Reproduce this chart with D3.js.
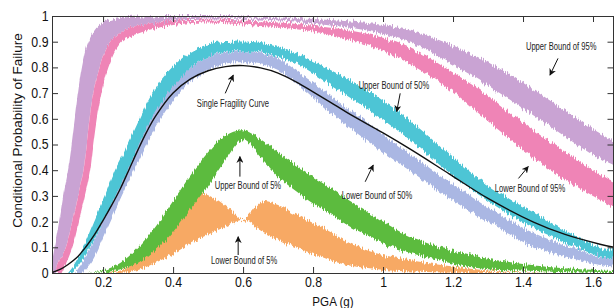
<!DOCTYPE html>
<html>
<head>
<meta charset="utf-8">
<script src="https://cdn.jsdelivr.net/npm/d3@7"></script>
<style>
  html, body { margin: 0; padding: 0; background: #fff; }
  #chart { width: 614px; height: 308px; }
</style>
</head>
<body>
<div id="chart"></div>
<script>
// ejes
const pgaTicks = [0.2, 0.4, 0.6, 0.8, 1, 1.2, 1.4, 1.6];
const probTicks = [0, 0.1, 0.2, 0.3, 0.4, 0.5, 0.6, 0.7, 0.8, 0.9, 1];

// curva única [PGA, prob]
const singleCurve = [[0.054,0],[0.06,0.005],[0.08,0.016],[0.1,0.033],[0.125,0.06],[0.15,0.1],[0.175,0.148],[0.2,0.205],[0.225,0.265],[0.25,0.33],[0.275,0.405],[0.3,0.48],[0.325,0.55],[0.35,0.61],[0.4,0.7],[0.45,0.755],[0.5,0.787],[0.55,0.803],[0.6,0.807],[0.65,0.798],[0.7,0.778],[0.75,0.745],[0.8,0.705],[0.85,0.664],[0.9,0.622],[1.0,0.545],[1.08,0.48],[1.19,0.385],[1.3,0.29],[1.43,0.198],[1.52,0.15],[1.62,0.112],[1.66,0.1]];

// bandas: borde superior / borde inferior
const upper95Top = [[0.054,0.04],[0.06,0.09],[0.077,0.22],[0.09,0.33],[0.101,0.41],[0.11,0.5],[0.12,0.61],[0.139,0.8],[0.158,0.9],[0.19,0.965],[0.24,0.99],[0.3,0.998],[0.5,1.0],[0.7,0.995],[0.8,0.988],[0.9,0.98],[1.0,0.965],[1.1,0.935],[1.2,0.885],[1.3,0.82],[1.4,0.74],[1.5,0.65],[1.6,0.56],[1.66,0.51]];
const upper95Bottom = [[0.054,0],[0.066,0],[0.068,0.03],[0.091,0.09],[0.115,0.22],[0.144,0.4],[0.153,0.5],[0.168,0.67],[0.19,0.8],[0.22,0.9],[0.27,0.95],[0.35,0.975],[0.5,0.99],[0.7,0.983],[0.8,0.97],[0.9,0.955],[1.0,0.93],[1.1,0.885],[1.2,0.81],[1.3,0.73],[1.4,0.64],[1.5,0.55],[1.6,0.46],[1.66,0.42]];
const lower95Top = [[0.066,0],[0.068,0.03],[0.091,0.09],[0.115,0.22],[0.144,0.4],[0.153,0.5],[0.168,0.67],[0.19,0.8],[0.22,0.9],[0.27,0.95],[0.35,0.975],[0.5,0.985],[0.7,0.975],[0.8,0.962],[0.9,0.945],[1.0,0.915],[1.1,0.86],[1.2,0.78],[1.3,0.69],[1.4,0.585],[1.5,0.49],[1.6,0.4],[1.66,0.355]];
const lower95Bottom = [[0.082,0],[0.11,0.09],[0.134,0.22],[0.163,0.4],[0.172,0.5],[0.191,0.67],[0.215,0.8],[0.253,0.9],[0.306,0.935],[0.4,0.965],[0.5,0.975],[0.7,0.955],[0.8,0.94],[0.9,0.91],[1.0,0.865],[1.1,0.795],[1.2,0.705],[1.3,0.59],[1.4,0.48],[1.5,0.38],[1.6,0.3],[1.66,0.255]];

const upper50Top = [[0.1,0],[0.12,0.035],[0.14,0.09],[0.16,0.155],[0.18,0.22],[0.205,0.3],[0.234,0.4],[0.26,0.47],[0.28,0.53],[0.3,0.59],[0.325,0.66],[0.36,0.74],[0.39,0.79],[0.43,0.84],[0.47,0.875],[0.52,0.895],[0.57,0.9],[0.62,0.9],[0.67,0.89],[0.72,0.87],[0.76,0.85],[0.85,0.79],[0.92,0.74],[0.99,0.68],[1.08,0.59],[1.19,0.46],[1.3,0.34],[1.43,0.235],[1.52,0.165],[1.62,0.1],[1.66,0.09]];
const upper50Bottom = [[0.11,0],[0.13,0.03],[0.16,0.09],[0.2,0.2],[0.235,0.3],[0.27,0.4],[0.3,0.49],[0.33,0.58],[0.37,0.67],[0.41,0.74],[0.45,0.8],[0.5,0.84],[0.55,0.86],[0.6,0.862],[0.65,0.858],[0.7,0.84],[0.76,0.81],[0.85,0.73],[0.92,0.67],[0.99,0.605],[1.08,0.515],[1.19,0.39],[1.3,0.28],[1.43,0.175],[1.52,0.12],[1.62,0.065],[1.66,0.055]];
const lower50Top = [[0.12,0],[0.15,0.06],[0.2,0.2],[0.25,0.36],[0.3,0.5],[0.35,0.64],[0.4,0.74],[0.45,0.8],[0.5,0.84],[0.55,0.858],[0.6,0.862],[0.65,0.855],[0.7,0.835],[0.76,0.78],[0.85,0.69],[0.92,0.62],[0.99,0.55],[1.08,0.46],[1.19,0.355],[1.3,0.255],[1.43,0.156],[1.52,0.11],[1.62,0.063],[1.66,0.055]];
const lower50Bottom = [[0.14,0],[0.17,0.05],[0.21,0.17],[0.26,0.32],[0.31,0.46],[0.36,0.59],[0.4,0.67],[0.45,0.745],[0.5,0.79],[0.55,0.815],[0.6,0.82],[0.65,0.812],[0.7,0.79],[0.76,0.73],[0.85,0.625],[0.92,0.55],[0.99,0.48],[1.08,0.395],[1.19,0.29],[1.3,0.2],[1.43,0.102],[1.52,0.065],[1.62,0.031],[1.66,0.025]];

const upper5Top = [[0.15,0],[0.2,0.01],[0.25,0.04],[0.3,0.1],[0.35,0.18],[0.4,0.28],[0.45,0.38],[0.5,0.47],[0.55,0.535],[0.6,0.555],[0.65,0.52],[0.7,0.47],[0.75,0.42],[0.8,0.375],[0.85,0.33],[0.9,0.285],[0.95,0.245],[1.0,0.2],[1.05,0.16],[1.1,0.13],[1.16,0.1],[1.24,0.075],[1.3,0.055],[1.43,0.03],[1.5,0.02],[1.62,0.01],[1.66,0.008]];
const upper5Bottom = [[0.13,0],[0.2,0.003],[0.25,0.015],[0.3,0.04],[0.35,0.09],[0.4,0.16],[0.45,0.25],[0.5,0.34],[0.55,0.44],[0.6,0.52],[0.65,0.45],[0.7,0.375],[0.75,0.32],[0.8,0.27],[0.85,0.23],[0.9,0.185],[0.95,0.15],[1.0,0.115],[1.05,0.09],[1.1,0.07],[1.16,0.05],[1.24,0.025],[1.3,0.015],[1.43,0.008],[1.5,0.004],[1.62,0],[1.66,0]];
const lower5Top = [[0.2,0],[0.25,0.01],[0.28,0.03],[0.32,0.08],[0.37,0.2],[0.42,0.26],[0.47,0.31],[0.52,0.29],[0.56,0.25],[0.6,0.21],[0.64,0.26],[0.66,0.28],[0.7,0.265],[0.75,0.23],[0.8,0.195],[0.85,0.16],[0.9,0.12],[0.95,0.09],[1.0,0.07],[1.1,0.045],[1.2,0.025],[1.3,0.01],[1.4,0.003],[1.5,0]];
const lower5Bottom = [[0.25,0],[0.3,0.012],[0.35,0.04],[0.4,0.075],[0.45,0.115],[0.5,0.15],[0.55,0.18],[0.6,0.206],[0.65,0.165],[0.7,0.13],[0.75,0.1],[0.8,0.075],[0.85,0.05],[0.9,0.03],[0.95,0.02],[1.0,0.012],[1.1,0.005],[1.2,0.001],[1.3,0],[1.5,0]];

// orden de dibujo: primero las de atrás
const bands = [
  { name: "upper95", top: upper95Top, bottom: upper95Bottom, color: "#c9a3d3" },
  { name: "lower95", top: lower95Top, bottom: lower95Bottom, color: "#ef84b6" },
  { name: "lower50", top: lower50Top, bottom: lower50Bottom, color: "#aab7e3" },
  { name: "upper50", top: upper50Top, bottom: upper50Bottom, color: "#4dc5d5" },
  { name: "lower5", top: lower5Top, bottom: lower5Bottom, color: "#f7a964" },
  { name: "upper5", top: upper5Top, bottom: upper5Bottom, color: "#5cbb3e" }
];

// anotaciones en unidades de datos
const notes = [
  { text: "Single Fragility Curve", at: [0.571, 0.646], from: [0.549, 0.699], to: [0.572, 0.77] },
  { text: "Upper Bound of 50%", at: [1.031, 0.716], from: [1.049, 0.699], to: [1.039, 0.628] },
  { text: "Lower Bound of 50%", at: [0.983, 0.288], from: [0.949, 0.355], to: [0.972, 0.42] },
  { text: "Upper Bound of 5%", at: [0.614, 0.327], from: [0.591, 0.375], to: [0.591, 0.453] },
  { text: "Lower Bound of 5%", at: [0.603, 0.035], from: [0.586, 0.07], to: [0.586, 0.141] },
  { text: "Upper Bound of 95%", at: [1.509, 0.868], from: [1.5, 0.835], to: [1.477, 0.77] },
  { text: "Lower Bound of 95%", at: [1.42, 0.315], from: [1.387, 0.368], to: [1.415, 0.414] }
];

const width = 614, height = 308;
const margin = { top: 16, right: 0, bottom: 35, left: 52 };
const fuente = "'Liberation Sans', Arial, sans-serif";

const svg = d3.select("#chart").append("svg")
  .attr("width", width).attr("height", height)
  .style("font-family", fuente);

const x = d3.scaleLinear().domain([0.054, 1.66]).range([margin.left, width - margin.right]);
const y = d3.scaleLinear().domain([0, 1]).range([height - margin.bottom, margin.top]);

const defs = svg.append("defs");
defs.append("clipPath").attr("id", "plotClip")
  .append("rect")
  .attr("x", margin.left).attr("y", margin.top - 2)
  .attr("width", width - margin.left - margin.right)
  .attr("height", height - margin.top - margin.bottom + 2);

// textura ruidosa vertical
const rough = defs.append("filter").attr("id", "rough")
  .attr("x", "-2%").attr("y", "-5%").attr("width", "104%").attr("height", "110%")
  .attr("color-interpolation-filters", "sRGB");
rough.append("feTurbulence").attr("type", "fractalNoise")
  .attr("baseFrequency", "0.9 0.03").attr("numOctaves", 2).attr("seed", 4).attr("result", "n");
rough.append("feColorMatrix").attr("in", "n").attr("type", "matrix")
  .attr("values", "0 0 0 0 0.5  0 1 0 0 0  0 0 0 0 0  0 0 0 0 1").attr("result", "m");
rough.append("feDisplacementMap").attr("in", "SourceGraphic").attr("in2", "m")
  .attr("scale", 9).attr("xChannelSelector", "R").attr("yChannelSelector", "G");

const marker = defs.append("marker").attr("id", "arrow")
  .attr("viewBox", "0 0 10 10").attr("refX", 9).attr("refY", 5)
  .attr("markerWidth", 7).attr("markerHeight", 7)
  .attr("markerUnits", "userSpaceOnUse").attr("orient", "auto");
marker.append("path").attr("d", "M0,0 L10,5 L0,10 L3,5 Z").attr("fill", "#111");

const edge = d3.line().x(d => x(d[0])).y(d => y(d[1])).curve(d3.curveCatmullRom.alpha(0.5));

const plot = svg.append("g").attr("clip-path", "url(#plotClip)");

plot.selectAll("path.band")
  .data(bands)
  .join("path")
  .attr("class", "band")
  .attr("d", b => edge(b.top) + "L" + edge(b.bottom.slice().reverse()).slice(1) + "Z")
  .attr("fill", b => b.color)
  .attr("filter", "url(#rough)");

plot.append("path")
  .datum(singleCurve)
  .attr("d", edge)
  .attr("fill", "none")
  .attr("stroke", "#111")
  .attr("stroke-width", 1.4);

// ejes
const axisColor = "#333";
svg.append("g").attr("transform", `translate(0,${y(0)})`)
  .call(d3.axisBottom(x).tickValues(pgaTicks).tickFormat(d => String(d))
    .tickSizeInner(-6).tickSizeOuter(0).tickPadding(4));
svg.append("g").attr("transform", `translate(0,${y(1)})`)
  .call(d3.axisTop(x).tickValues(pgaTicks).tickFormat("").tickSizeInner(-6).tickSizeOuter(0));
svg.append("g").attr("transform", `translate(${x.range()[0]},0)`)
  .call(d3.axisLeft(y).tickValues(probTicks).tickFormat(d => String(d))
    .tickSizeInner(-6).tickSizeOuter(0).tickPadding(4));
svg.append("g").attr("transform", `translate(${x.range()[1] - 0.5},0)`)
  .call(d3.axisRight(y).tickValues(probTicks).tickFormat("").tickSizeInner(-6).tickSizeOuter(0));

svg.selectAll(".domain").remove();
svg.selectAll(".tick line").attr("stroke", axisColor);
svg.selectAll(".tick text").attr("fill", "#111").attr("font-size", 14)
  .attr("transform", "scale(0.88,1)")
  .style("font-family", fuente);

svg.append("rect")
  .attr("x", x.range()[0] + 0.5).attr("y", y(1) + 0.5)
  .attr("width", x.range()[1] - x.range()[0] - 1).attr("height", y(0) - y(1))
  .attr("fill", "none").attr("stroke", axisColor).attr("stroke-width", 1);

// títulos de ejes
svg.append("text")
  .attr("transform", `translate(21.5,${(y(0) + y(1)) / 2 - 14}) rotate(-90)`)
  .attr("text-anchor", "middle")
  .attr("font-size", 13.5)
  .attr("fill", "#111")
  .text("Conditional Probability of Failure");

svg.append("text")
  .attr("transform", `translate(${(x.range()[0] + x.range()[1]) / 2},306) scale(0.86,1)`)
  .attr("text-anchor", "middle")
  .attr("font-size", 13.5)
  .attr("fill", "#111")
  .text("PGA (g)");

// anotaciones
const ann = svg.append("g").attr("class", "notes");
ann.selectAll("line")
  .data(notes)
  .join("line")
  .attr("x1", d => x(d.from[0])).attr("y1", d => y(d.from[1]))
  .attr("x2", d => x(d.to[0])).attr("y2", d => y(d.to[1]))
  .attr("stroke", "#111").attr("stroke-width", 1)
  .attr("marker-end", "url(#arrow)");
ann.selectAll("text")
  .data(notes)
  .join("text")
  .attr("transform", d => `translate(${x(d.at[0])},${y(d.at[1])}) scale(0.76,1)`)
  .attr("text-anchor", "middle")
  .attr("font-size", 10)
  .attr("fill", "#222")
  .text(d => d.text);
</script>
</body>
</html>
